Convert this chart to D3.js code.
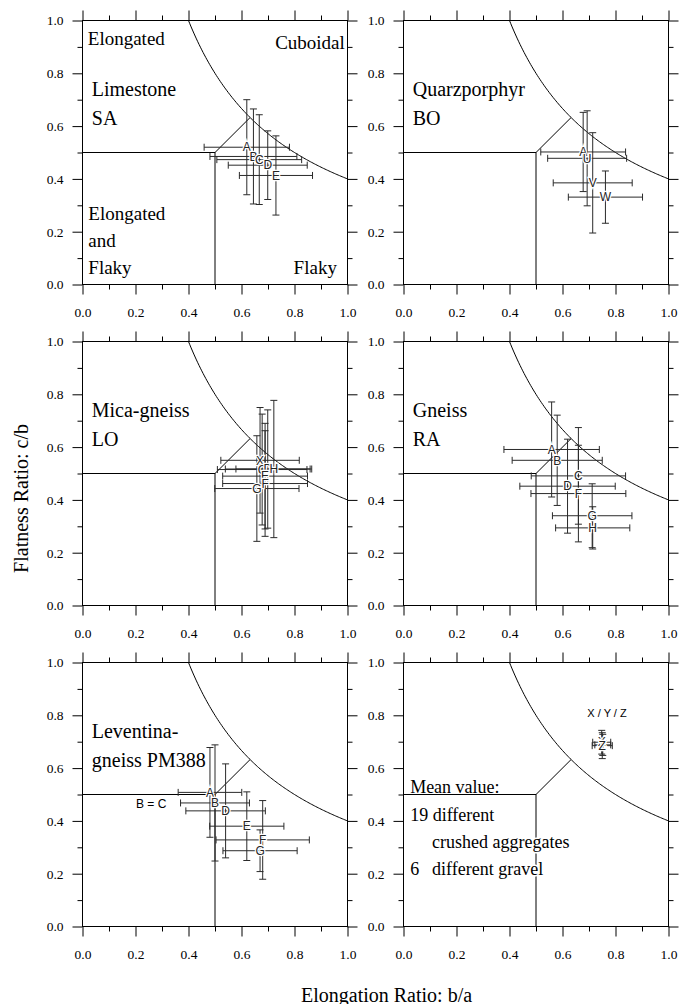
<!DOCTYPE html>
<html>
<head>
<meta charset="utf-8">
<script src="https://cdn.jsdelivr.net/npm/d3@7"></script>
<style>
  body { margin: 0; background: #fff; }
  svg { display: block; }
  .tick text { font-family: "Liberation Serif", "Times New Roman", serif; font-size: 13.5px; }
</style>
</head>
<body>
<svg id="chart" width="680" height="1004"></svg>
<script>
// [label, elongation b/a, flatness c/b, error b/a, error c/b]
const limestoneSA = [
  ['A', 0.620, 0.520, 0.161, 0.180],
  ['B', 0.645, 0.485, 0.164, 0.180],
  ['C', 0.667, 0.473, 0.160, 0.170],
  ['D', 0.699, 0.452, 0.149, 0.130],
  ['E', 0.730, 0.413, 0.138, 0.150],
];
const quarzporphyrBO = [
  ['A', 0.678, 0.502, 0.160, 0.150],
  ['U', 0.693, 0.478, 0.149, 0.180],
  ['V', 0.714, 0.385, 0.149, 0.190],
  ['W', 0.762, 0.331, 0.140, 0.099],
];
const micaGneissLO = [
  ['X', 0.670, 0.550, 0.148, 0.200],
  ['C', 0.678, 0.515, 0.169, 0.210],
  ['D', 0.699, 0.517, 0.160, 0.224],
  ['H', 0.722, 0.517, 0.143, 0.260],
  ['E', 0.689, 0.490, 0.160, 0.200],
  ['F', 0.689, 0.462, 0.160, 0.200],
  ['G', 0.658, 0.443, 0.159, 0.200],
];
const gneissRA = [
  ['A', 0.559, 0.591, 0.180, 0.180],
  ['B', 0.580, 0.550, 0.170, 0.171],
  ['C', 0.660, 0.491, 0.178, 0.183],
  ['D', 0.619, 0.452, 0.180, 0.178],
  ['F', 0.660, 0.424, 0.179, 0.183],
  ['G', 0.712, 0.340, 0.150, 0.121],
  ['H', 0.714, 0.294, 0.140, 0.080],
];
const leventinaPM388 = [
  ['A', 0.481, 0.508, 0.120, 0.170],
  ['B', 0.500, 0.468, 0.130, 0.220],
  ['D', 0.540, 0.438, 0.150, 0.178],
  ['E', 0.620, 0.380, 0.140, 0.130],
  ['F', 0.680, 0.328, 0.176, 0.149],
  ['G', 0.670, 0.287, 0.140, 0.079],
];
const meanValues = [
  ['X', 0.748, 0.698, 0.034, 0.045],
  ['Y', 0.752, 0.688, 0.030, 0.040],
  ['Z', 0.750, 0.685, 0.038, 0.049],
];

const majorTicks = [0, 0.2, 0.4, 0.6, 0.8, 1.0];
const minorTicks = [0.1, 0.3, 0.5, 0.7, 0.9];
const boundaryProduct = 0.4; // cuboidal boundary: b/a * c/b = 0.4

const serif = '"Liberation Serif", "Times New Roman", serif';
const sans = '"Liberation Sans", Arial, sans-serif';

const W = 265;
const H = 264;
const lefts = [82.5, 403.5];
const tops = [20.5, 341.5, 662.5];

const panels = [
  { col: 0, row: 0, name: ['Limestone', 'SA'], data: limestoneSA, regions: true },
  { col: 1, row: 0, name: ['Quarzporphyr', 'BO'], data: quarzporphyrBO },
  { col: 0, row: 1, name: ['Mica-gneiss', 'LO'], data: micaGneissLO },
  { col: 1, row: 1, name: ['Gneiss', 'RA'], data: gneissRA },
  { col: 0, row: 2, name: ['Leventina-', 'gneiss PM388'], data: leventinaPM388, bEqualsC: true },
  { col: 1, row: 2, name: null, data: meanValues, mean: true },
];

const svg = d3.select('#chart');

function styleAxis(sel) {
  sel.attr('font-family', serif).attr('font-size', 13.5);
  sel.select('.domain').remove();
  sel.selectAll('line').attr('stroke', '#000');
  sel.selectAll('text').attr('fill', '#000');
}

function addText(g, str, x, y, opts = {}) {
  return g.append('text')
    .attr('x', x)
    .attr('y', y)
    .attr('text-anchor', opts.anchor || 'start')
    .style('font-family', opts.font || serif)
    .style('font-size', opts.size || '19px')
    .attr('fill', '#000')
    .text(str);
}

function halo(sel, width) {
  return sel.attr('stroke', '#fff').attr('stroke-width', width).attr('paint-order', 'stroke');
}

function renderPanel(p) {
  const left = lefts[p.col];
  const top = tops[p.row];
  const x = d3.scaleLinear().domain([0, 1]).range([left, left + W]);
  const y = d3.scaleLinear().domain([0, 1]).range([top + H, top]);
  const fmt = d3.format('.1f');
  const g = svg.append('g');

  // axes on four sides, ticks outward
  g.append('g').attr('transform', `translate(0,${top + H})`)
    .call(d3.axisBottom(x).tickValues(majorTicks).tickSize(10).tickPadding(13).tickFormat(fmt)).call(styleAxis);
  g.append('g').attr('transform', `translate(0,${top + H})`)
    .call(d3.axisBottom(x).tickValues(minorTicks).tickSize(5).tickFormat('')).call(styleAxis);
  g.append('g').attr('transform', `translate(0,${top})`)
    .call(d3.axisTop(x).tickValues(majorTicks).tickSize(10).tickFormat('')).call(styleAxis);
  g.append('g').attr('transform', `translate(0,${top})`)
    .call(d3.axisTop(x).tickValues(minorTicks).tickSize(5).tickFormat('')).call(styleAxis);
  g.append('g').attr('transform', `translate(${left},0)`)
    .call(d3.axisLeft(y).tickValues(majorTicks).tickSize(10).tickPadding(9).tickFormat(fmt)).call(styleAxis);
  g.append('g').attr('transform', `translate(${left},0)`)
    .call(d3.axisLeft(y).tickValues(minorTicks).tickSize(5).tickFormat('')).call(styleAxis);
  g.append('g').attr('transform', `translate(${left + W},0)`)
    .call(d3.axisRight(y).tickValues(majorTicks).tickSize(10).tickFormat('')).call(styleAxis);
  g.append('g').attr('transform', `translate(${left + W},0)`)
    .call(d3.axisRight(y).tickValues(minorTicks).tickSize(5).tickFormat('')).call(styleAxis);

  g.append('rect')
    .attr('x', left).attr('y', top).attr('width', W).attr('height', H)
    .attr('fill', 'none').attr('stroke', '#000');

  // classification boundaries
  const line = d3.line().x((d) => x(d[0])).y((d) => y(d[1]));
  const kink = Math.sqrt(boundaryProduct);
  g.append('path')
    .attr('d', line([[0, 0.5], [0.5, 0.5], [0.5, 0]]))
    .attr('fill', 'none').attr('stroke', '#000');
  g.append('path')
    .attr('d', line([[0.5, 0.5], [kink, kink]]))
    .attr('fill', 'none').attr('stroke', '#000');
  g.append('path')
    .attr('d', line(d3.range(boundaryProduct, 1.0001, 0.005).map((v) => [v, boundaryProduct / v])))
    .attr('fill', 'none').attr('stroke', '#000');

  // error bars
  const cap = 3.5;
  const bars = g.append('g').attr('stroke', '#2a2a2a').attr('stroke-width', 1).attr('fill', 'none');
  const segs = [];
  p.data.forEach(([, e, f, de, df]) => {
    const cx = x(e), cy = y(f);
    const x0 = x(e - de), x1 = x(e + de);
    const y0 = y(f - df), y1 = y(f + df);
    segs.push([x0, cy, x1, cy], [x0, cy - cap, x0, cy + cap], [x1, cy - cap, x1, cy + cap]);
    segs.push([cx, y0, cx, y1], [cx - cap, y0, cx + cap, y0], [cx - cap, y1, cx + cap, y1]);
  });
  bars.selectAll('line').data(segs).join('line')
    .attr('x1', (d) => d[0]).attr('y1', (d) => d[1])
    .attr('x2', (d) => d[2]).attr('y2', (d) => d[3]);

  g.append('g').attr('opacity', 0.99).selectAll('text').data(p.data).join('text')
    .attr('x', (d) => x(d[1]))
    .attr('y', (d) => y(d[2]))
    .attr('dy', '0.35em')
    .attr('text-anchor', 'middle')
    .style('font-family', sans)
    .style('font-size', '12px')
    .attr('fill', '#222')
    .call(halo, 2.5)
    .text((d) => d[0]);

  if (p.name) {
    addText(g, p.name[0], x(0.035), y(0.714), { size: '20px' });
    addText(g, p.name[1], x(0.035), y(0.603), { size: '20px' });
  }

  if (p.regions) {
    addText(g, 'Elongated', x(0.02), y(0.907));
    addText(g, 'Cuboidal', x(0.99), y(0.892), { anchor: 'end' });
    addText(g, 'Elongated', x(0.022), y(0.244));
    addText(g, 'and', x(0.022), y(0.143));
    addText(g, 'Flaky', x(0.022), y(0.040));
    addText(g, 'Flaky', x(0.96), y(0.040), { anchor: 'end' });
  }

  if (p.bEqualsC) {
    addText(g, 'B = C', x(0.259), y(0.465), { anchor: 'middle', font: sans, size: '12px' })
      .attr('dy', '0.35em');
  }

  if (p.mean) {
    addText(g, 'X / Y / Z', x(0.768), y(0.807), { anchor: 'middle', font: sans, size: '11px' })
      .attr('dy', '0.35em');
    addText(g, 'Mean value:', x(0.025), y(0.505), { size: '18px' });
    addText(g, '19 different', x(0.025), y(0.398), { size: '18px' }).call(halo, 3);
    addText(g, 'crushed aggregates', x(0.108), y(0.297), { size: '18px' }).call(halo, 3);
    addText(g, '6', x(0.025), y(0.195), { size: '18px' }).call(halo, 3);
    addText(g, 'different gravel', x(0.108), y(0.195), { size: '18px' }).call(halo, 3);
  }
}

panels.forEach(renderPanel);

svg.append('text')
  .attr('x', 301)
  .attr('y', 1001.5)
  .style('font-family', serif)
  .style('font-size', '20px')
  .attr('fill', '#000')
  .text('Elongation Ratio: b/a');

svg.append('text')
  .attr('transform', 'translate(28.3,424) rotate(-90)')
  .attr('text-anchor', 'end')
  .style('font-family', serif)
  .style('font-size', '20px')
  .attr('fill', '#000')
  .text('Flatness Ratio: c/b');
</script>
</body>
</html>
